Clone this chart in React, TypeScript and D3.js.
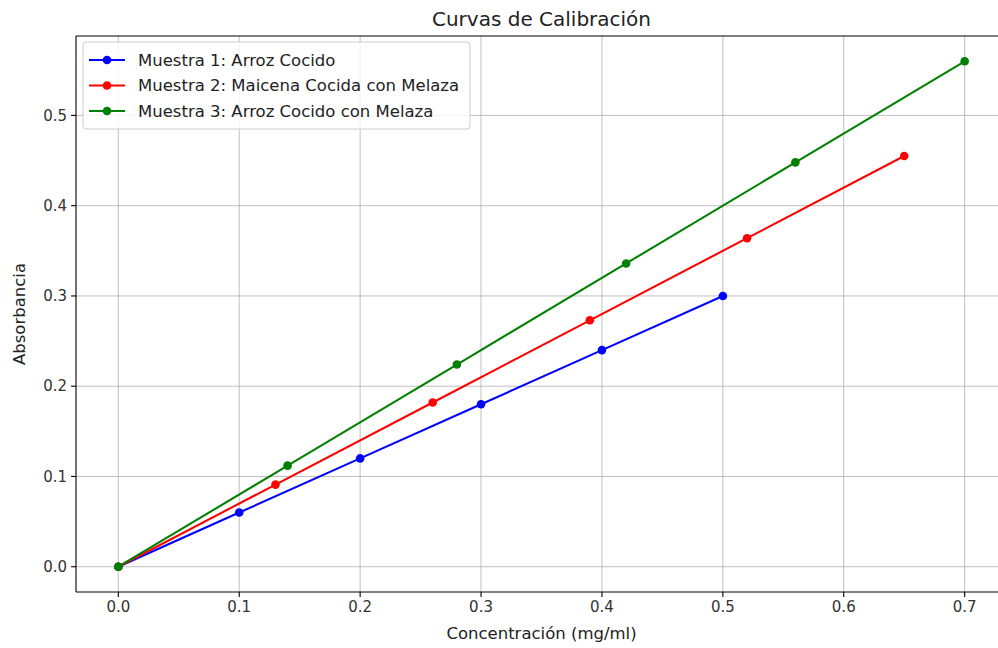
import React from 'react';
import * as d3 from 'd3';

// calibration data
const muestra1X = [0, 0.1, 0.2, 0.3, 0.4, 0.5];
const muestra1Y = [0, 0.06, 0.12, 0.18, 0.24, 0.3];
const muestra2X = [0, 0.13, 0.26, 0.39, 0.52, 0.65];
const muestra2Y = [0, 0.091, 0.182, 0.273, 0.364, 0.455];
const muestra3X = [0, 0.14, 0.28, 0.42, 0.56, 0.7];
const muestra3Y = [0, 0.112, 0.224, 0.336, 0.448, 0.56];

const seriesNames = [
  'Muestra 1: Arroz Cocido',
  'Muestra 2: Maicena Cocida con Melaza',
  'Muestra 3: Arroz Cocido con Melaza',
];
const seriesColors = ['#0000ff', '#ff0000', '#008000'];
const xTicks = [0, 0.1, 0.2, 0.3, 0.4, 0.5, 0.6, 0.7];
const yTicks = [0, 0.1, 0.2, 0.3, 0.4, 0.5];

const W = 998;
const H = 648;
const margin = { top: 36, right: -9, bottom: 56, left: 76 };
const font = 'DejaVu Sans, sans-serif';

const App = () => {
  const series = [
    muestra1X.map((x, i) => ({ x, y: muestra1Y[i] })),
    muestra2X.map((x, i) => ({ x, y: muestra2Y[i] })),
    muestra3X.map((x, i) => ({ x, y: muestra3Y[i] })),
  ];

  const x = d3.scaleLinear().domain([-0.035, 0.735]).range([margin.left, W - margin.right]);
  const y = d3.scaleLinear().domain([-0.028, 0.588]).range([H - margin.bottom, margin.top]);

  const line = d3.line<{ x: number; y: number }>().x(d => x(d.x)).y(d => y(d.y));

  const left = margin.left;
  const right = W - margin.right;
  const top = margin.top;
  const bottom = H - margin.bottom;

  return (
    <div style={{ position: 'absolute', left: 0, top: 0, width: W, height: H, overflow: 'hidden' }}>
      <svg width={W} height={H} style={{ display: 'block', background: '#fff' }} fontFamily={font}>
        {/* grid */}
        {xTicks.map(t => (
          <line key={'gx' + t} x1={x(t)} x2={x(t)} y1={top} y2={bottom} stroke="#b0b0b0" strokeWidth={0.8} />
        ))}
        {yTicks.map(t => (
          <line key={'gy' + t} x1={left} x2={right} y1={y(t)} y2={y(t)} stroke="#b0b0b0" strokeWidth={0.8} />
        ))}

        {/* lines + markers */}
        {series.map((s, i) => (
          <g key={i}>
            <path d={line(s) || ''} fill="none" stroke={seriesColors[i]} strokeWidth={2.08} />
            {s.map((d, j) => (
              <circle key={j} cx={x(d.x)} cy={y(d.y)} r={4.3} fill={seriesColors[i]} />
            ))}
          </g>
        ))}

        {/* spines (right one falls outside the canvas) */}
        <g stroke="#000" strokeWidth={1.1}>
          <line x1={left} x2={left} y1={top} y2={bottom} />
          <line x1={left} x2={right} y1={top} y2={top} />
          <line x1={left} x2={right} y1={bottom} y2={bottom} />
        </g>

        {/* ticks */}
        {xTicks.map(t => (
          <g key={'tx' + t}>
            <line x1={x(t)} x2={x(t)} y1={bottom} y2={bottom + 4.9} stroke="#000" strokeWidth={1.1} />
            <text x={x(t)} y={bottom + 20} textAnchor="middle" fontSize={15} fill="#333">
              {d3.format('.1f')(t)}
            </text>
          </g>
        ))}
        {yTicks.map(t => (
          <g key={'ty' + t}>
            <line x1={left - 4.9} x2={left} y1={y(t)} y2={y(t)} stroke="#000" strokeWidth={1.1} />
            <text x={left - 9} y={y(t)} dy="0.35em" textAnchor="end" fontSize={15} fill="#333">
              {d3.format('.1f')(t)}
            </text>
          </g>
        ))}

        {/* axis labels and title */}
        <text x={(left + right) / 2} y={639} textAnchor="middle" fontSize={16.5} fill="#222">
          Concentración (mg/ml)
        </text>
        <text transform={`translate(25,${(top + bottom) / 2}) rotate(-90)`} textAnchor="middle" fontSize={16.5} fill="#222">
          Absorbancia
        </text>
        <text x={(left + right) / 2} y={26} textAnchor="middle" fontSize={20} fill="#222">
          Curvas de Calibración
        </text>

        {/* legend */}
        <g transform={`translate(${left + 7},${top + 6})`}>
          <rect x={0} y={0} width={387} height={87} rx={3} fill="#fff" fillOpacity={0.8} stroke="#cccccc" strokeWidth={1} />
          {seriesNames.map((name, i) => (
            <g key={name} transform={`translate(0,${18 + i * 25.5})`}>
              <line x1={6} x2={42} y1={0} y2={0} stroke={seriesColors[i]} strokeWidth={2.08} />
              <circle cx={24} cy={0} r={4.3} fill={seriesColors[i]} />
              <text x={55} y={0} dy="0.35em" fontSize={16.5} fill="#222">
                {name}
              </text>
            </g>
          ))}
        </g>
      </svg>
    </div>
  );
};

export default App;
